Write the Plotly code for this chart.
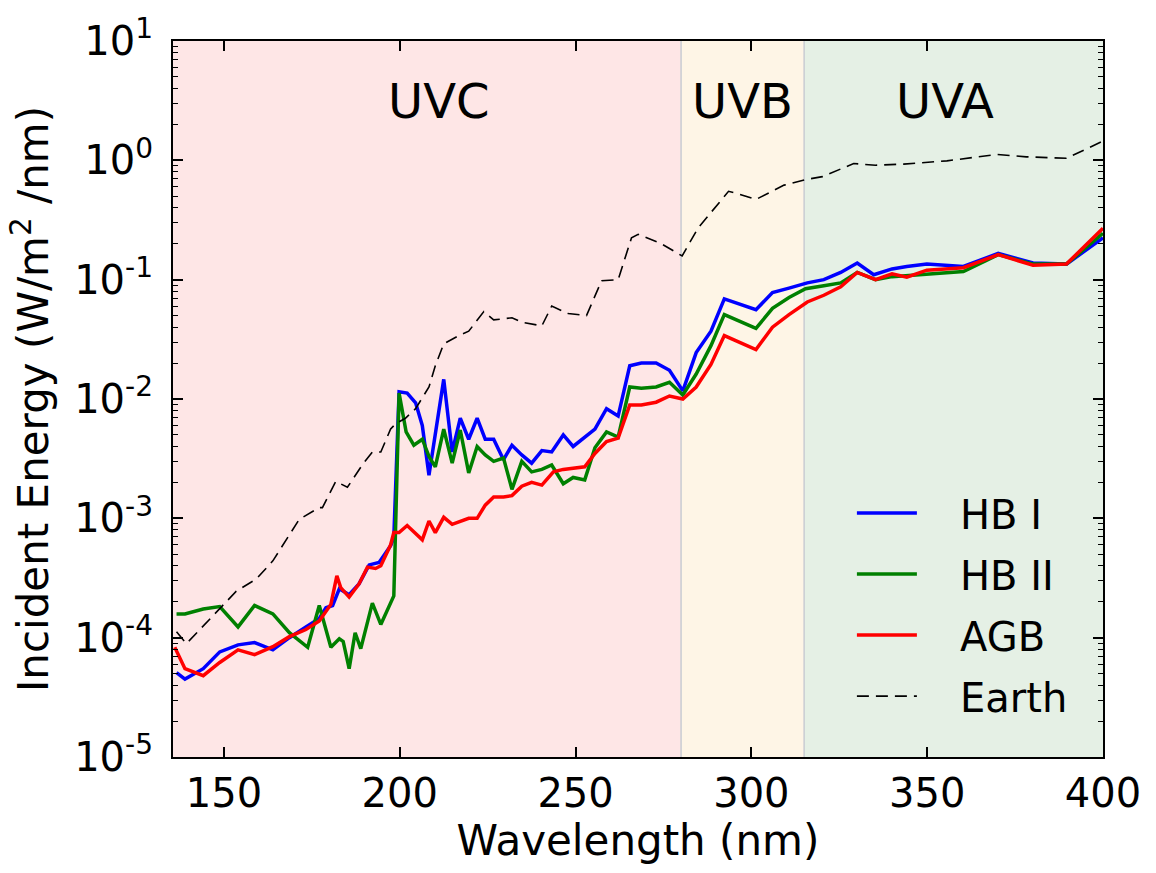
import plotly.graph_objects as go

# ---------------- data ----------------
hb1_wl = [136.5, 138.9, 144.1, 148.8, 154.0, 158.7, 163.9, 168.6, 173.3, 177.1, 179.0, 180.9,
          182.8, 185.6, 188.4, 191.3, 194.1, 197.4, 198.3, 199.8, 202.1, 204.5, 206.4, 208.3,
          212.5, 214.9, 217.2, 219.6, 222.0, 224.3, 226.7, 229.5, 231.9, 234.7, 237.5, 240.4,
          243.2, 246.5, 249.3, 252.6, 255.5, 258.8, 262.1, 265.4, 268.7, 272.9, 276.7, 280.5,
          284.3, 288.5, 292.3, 301.3, 306.0, 310.7, 315.9, 320.6, 325.4, 330.1, 334.8, 340.0,
          344.2, 349.9, 360.3, 370.2, 380.1, 389.6, 400.0]
hb1_val = [5.1e-5, 4.5e-5, 5.5e-5, 7.6e-5, 8.7e-5, 9.1e-5, 7.9e-5, 1.0e-4, 1.23e-4, 1.45e-4, 1.78e-4, 1.86e-4,
           2.57e-4, 2.29e-4, 2.82e-4, 4.07e-4, 4.27e-4, 5.9e-4, 6.9e-4, 1.15e-2, 1.12e-2, 9.3e-3, 6.0e-3, 2.3e-3,
           1.46e-2, 3.6e-3, 6.9e-3, 4.6e-3, 6.9e-3, 4.6e-3, 4.6e-3, 3.1e-3, 4.1e-3, 3.4e-3, 2.9e-3, 3.7e-3,
           3.6e-3, 5.0e-3, 4.0e-3, 4.8e-3, 5.6e-3, 8.3e-3, 7.2e-3, 1.9e-2, 2.0e-2, 2.0e-2, 1.74e-2, 1.17e-2,
           2.45e-2, 3.7e-2, 6.9e-2, 5.6e-2, 7.8e-2, 8.5e-2, 9.4e-2, 0.100, 0.115, 0.138, 0.110, 0.123,
           0.129, 0.135, 0.129, 0.166, 0.138, 0.135, 0.224]

hb2_wl = [136.5, 138.9, 144.1, 148.8, 154.0, 158.7, 163.9, 168.6, 173.8, 177.1, 180.4, 182.8,
          183.9, 185.6, 187.3, 188.9, 192.2, 194.6, 198.3, 199.8, 201.8, 204.0, 206.4, 208.3,
          210.1, 212.5, 214.9, 217.2, 219.6, 222.0, 224.3, 226.7, 229.5, 231.9, 234.7, 237.5,
          240.4, 243.2, 246.5, 249.3, 252.6, 255.5, 258.8, 262.1, 265.4, 268.7, 272.9, 276.7,
          280.5, 284.3, 288.5, 292.3, 301.3, 306.0, 310.7, 315.4, 320.6, 325.4, 330.1, 335.3,
          340.0, 349.9, 360.3, 370.2, 380.1, 389.6, 400.0]
hb2_val = [1.58e-4, 1.58e-4, 1.74e-4, 1.82e-4, 1.23e-4, 1.86e-4, 1.58e-4, 1.10e-4, 8.3e-5, 1.86e-4, 8.3e-5, 9.8e-5,
           9.3e-5, 5.5e-5, 1.10e-4, 8.1e-5, 1.95e-4, 1.29e-4, 2.24e-4, 1.12e-2, 5.3e-3, 4.1e-3, 4.6e-3, 3.3e-3,
           2.7e-3, 5.6e-3, 2.9e-3, 5.5e-3, 2.4e-3, 4.0e-3, 3.4e-3, 3.0e-3, 3.2e-3, 1.75e-3, 3.0e-3, 2.45e-3,
           2.57e-3, 2.8e-3, 1.95e-3, 2.2e-3, 2.1e-3, 3.9e-3, 5.3e-3, 4.8e-3, 1.26e-2, 1.23e-2, 1.26e-2, 1.38e-2,
           1.08e-2, 1.62e-2, 2.8e-2, 5.1e-2, 3.9e-2, 5.75e-2, 7.1e-2, 8.4e-2, 8.9e-2, 9.4e-2, 0.115, 0.100,
           0.106, 0.112, 0.117, 0.162, 0.135, 0.135, 0.245]

agb_wl = [136.0, 138.9, 144.1, 148.8, 154.0, 158.7, 163.9, 168.6, 173.3, 177.1, 180.4, 182.1,
          183.2, 185.6, 188.4, 190.8, 193.1, 194.6, 197.4, 198.3, 199.8, 202.1, 206.4, 208.3,
          210.1, 212.5, 214.9, 219.6, 222.0, 224.3, 226.7, 229.5, 231.9, 234.7, 237.5, 240.4,
          243.7, 246.5, 252.6, 255.5, 258.8, 262.1, 265.4, 268.7, 272.9, 276.7, 280.5, 284.3,
          288.5, 292.3, 301.3, 306.0, 310.7, 315.9, 320.6, 325.4, 330.1, 335.3, 340.0, 344.2,
          349.9, 360.3, 370.2, 380.1, 389.6, 400.0]
agb_val = [8.3e-5, 5.5e-5, 4.8e-5, 6.2e-5, 7.9e-5, 7.2e-5, 8.4e-5, 1.02e-4, 1.17e-4, 1.38e-4, 1.9e-4, 3.3e-4,
           2.63e-4, 2.19e-4, 2.82e-4, 3.9e-4, 3.8e-4, 4.0e-4, 6.0e-4, 7.6e-4, 7.6e-4, 8.7e-4, 6.6e-4, 9.5e-4,
           7.6e-4, 1.02e-3, 8.9e-4, 1.0e-3, 1.0e-3, 1.29e-3, 1.51e-3, 1.51e-3, 1.55e-3, 1.86e-3, 2.0e-3, 1.9e-3,
           2.45e-3, 2.57e-3, 2.7e-3, 3.5e-3, 4.4e-3, 4.7e-3, 8.9e-3, 8.9e-3, 9.4e-3, 1.06e-2, 1.0e-2, 1.26e-2,
           1.95e-2, 3.4e-2, 2.6e-2, 4.0e-2, 5.1e-2, 6.5e-2, 7.4e-2, 8.7e-2, 0.115, 0.100, 0.112, 0.105,
           0.120, 0.126, 0.162, 0.132, 0.135, 0.27]

earth_wl = [136.5, 139.3, 153.5, 159.2, 163.9, 168.6, 171.4, 177.1, 178.0, 181.8, 185.1, 189.4,
            192.2, 194.6, 197.4, 198.8, 201.6, 204.5, 208.3, 210.1, 212.5, 216.8, 219.6, 223.9,
            226.7, 231.9, 234.7, 240.4, 243.2, 247.9, 253.1, 257.4, 262.1, 265.9, 267.8, 274.4,
            280.3, 284.8, 289.5, 293.5, 296.1, 301.3, 309.3, 315.4, 320.2, 329.1, 335.3, 343.3,
            355.6, 364.1, 369.8, 378.2, 389.6, 400.0]
earth_val = [1.12e-4, 8.9e-5, 2.45e-4, 3.1e-4, 4.4e-4, 7.2e-4, 9.8e-4, 1.23e-3, 1.23e-3, 2.04e-3, 1.82e-3, 2.82e-3,
             3.6e-3, 3.6e-3, 5.6e-3, 6.2e-3, 6.9e-3, 8.3e-3, 1.26e-2, 1.9e-2, 2.9e-2, 3.4e-2, 3.7e-2, 5.4e-2,
             4.6e-2, 4.8e-2, 4.4e-2, 4.1e-2, 6.0e-2, 5.2e-2, 5.0e-2, 9.8e-2, 0.100, 0.224, 0.24, 0.20,
             0.158, 0.27, 0.40, 0.55, 0.525, 0.47, 0.62, 0.69, 0.73, 0.94, 0.91, 0.93,
             0.99, 1.07, 1.12, 1.07, 1.04, 1.45]

band_names = ["UVC", "UVB", "UVA"]
band_edges = [134.0, 280.0, 315.0, 400.0]
band_label_x = [211.0, 297.5, 355.0]
band_colors = ["rgb(254,230,230)", "rgb(254,245,230)", "rgb(229,240,229)"]

ytick_vals = [1e-5, 1e-4, 1e-3, 1e-2, 1e-1, 1e0, 1e1]
ytick_text = ["10<sup>-5</sup>", "10<sup>-4</sup>", "10<sup>-3</sup>", "10<sup>-2</sup>",
              "10<sup>-1</sup>", "10<sup>0</sup>", "10<sup>1</sup>"]
xtick_vals = [150, 200, 250, 300, 350, 400]
minor_y = [m * d for d in ytick_vals[:-1] for m in range(2, 10)]

FONT = "DejaVu Sans"
PAD = "&nbsp;&nbsp;&nbsp;"

fig = go.Figure()

series = [
    ("HB I", hb1_wl, hb1_val, dict(color="rgb(0,0,255)", width=3.5)),
    ("HB II", hb2_wl, hb2_val, dict(color="rgb(0,128,0)", width=3.5)),
    ("AGB", agb_wl, agb_val, dict(color="rgb(255,0,0)", width=3.5)),
    ("Earth", earth_wl, earth_val, dict(color="black", width=1.6, dash="12px,7px")),
]
for i, (name, xs, ys, line) in enumerate(series):
    fig.add_trace(go.Scatter(x=xs, y=ys, mode="lines", name=PAD + name, line=line,
                             legendgroup=str(i)))

# shaded UV bands
for i, name in enumerate(band_names):
    fig.add_shape(type="rect", xref="x", yref="paper", x0=band_edges[i], x1=band_edges[i + 1],
                  y0=0, y1=1, fillcolor=band_colors[i], line_width=0, layer="below")
    fig.add_annotation(x=band_label_x[i], y=0.5, xref="x", yref="y", text=name,
                       showarrow=False, font=dict(family=FONT, size=48, color="black"))
for edge in band_edges[1:3]:
    fig.add_shape(type="line", xref="x", yref="paper", x0=edge, x1=edge, y0=0, y1=1,
                  line=dict(color="rgb(200,204,210)", width=1.5), layer="below")

fig.update_layout(
    width=1156, height=873,
    margin=dict(l=173, r=53, t=37, b=116),
    paper_bgcolor="white", plot_bgcolor="white",
    font=dict(family=FONT, size=40, color="black"),
    showlegend=True,
    legend=dict(x=0.73, y=0.386, xanchor="left", yanchor="top", bgcolor="rgba(0,0,0,0)",
                borderwidth=0, font=dict(family=FONT, size=40), itemwidth=60,
                tracegroupgap=6),
)
fig.update_xaxes(
    range=[135.5, 400], showgrid=False, zeroline=False,
    showline=True, linecolor="black", linewidth=2, mirror="allticks",
    ticks="inside", ticklen=10, tickwidth=1.5, tickcolor="black",
    tickvals=xtick_vals, tickfont=dict(family=FONT, size=40),
    title=dict(text="Wavelength (nm)", font=dict(family=FONT, size=42), standoff=2),
)
fig.update_yaxes(
    type="log", range=[-5, 1], showgrid=False, zeroline=False,
    showline=True, linecolor="black", linewidth=2, mirror="allticks",
    ticks="inside", ticklen=10, tickwidth=1.5, tickcolor="black",
    tickvals=ytick_vals, ticktext=ytick_text, tickfont=dict(family=FONT, size=40),
    ticklabelstandoff=10,
    minor=dict(ticks="inside", ticklen=5, tickwidth=1, tickcolor="black",
               tickmode="array", tickvals=minor_y, showgrid=False),
    title=dict(text="Incident Energy (W/m<sup>2</sup> /nm)", font=dict(family=FONT, size=42), standoff=12),
)

fig.write_html("out.html")
